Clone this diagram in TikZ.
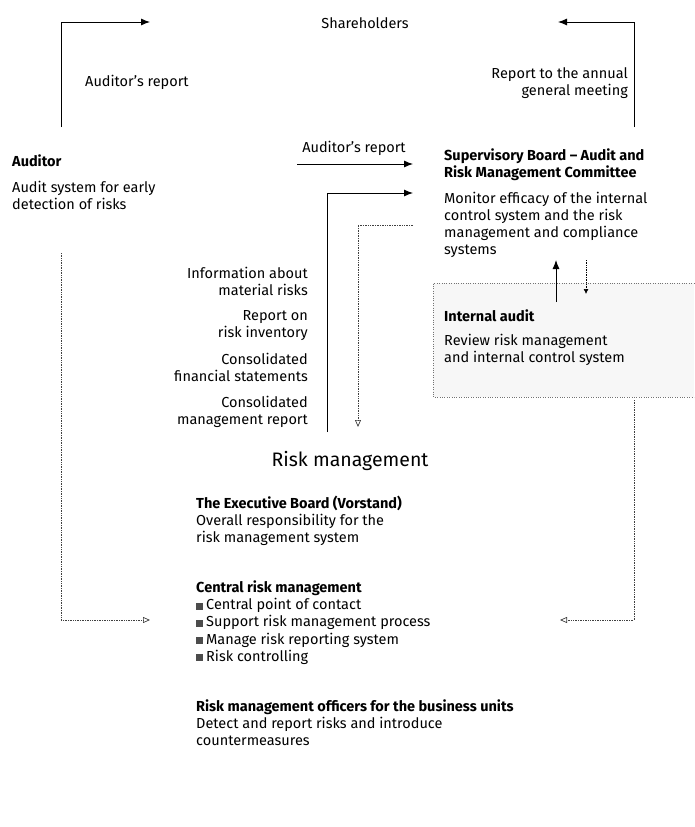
\documentclass[tikz,border=0pt]{standalone}
\usepackage{fontspec}
\setmainfont{Fira Sans}
\usetikzlibrary{arrows.meta}
\newcommand\rmbul{\textcolor{black!70}{\rule{7pt}{7pt}}\hspace{3pt}}
\begin{document}
\begin{tikzpicture}[x=1pt,y=-1pt,
  txt/.style={inner sep=0pt, font=\fontsize{14.5}{17.2}\selectfont},
  btxt/.style={inner sep=0pt, font=\fontsize{14.5}{17.2}\selectfont\bfseries},
  solidarrow/.style={line width=0.9pt, -{Latex[length=9pt,width=7pt]}},
  dotarrow/.style={line width=0.7pt, black!75, densely dotted, -{Triangle[open,length=7pt,width=6pt]}}]
\useasboundingbox (0,0) rectangle (694,827);
\fill[white] (0,0) rectangle (694,827);
% internal audit box
\draw[black!55, dotted, fill=black!3] (694,283) -- (433,283) -- (433,397) -- (694,397);
% texts
\node[txt] (sh) at (365,23) {Shareholders};
\node[txt, anchor=west] (lar) at (85,82) {Auditor's report};
\node[txt, anchor=north east, align=right] (agm) at (628,67.5) {Report to the annual\\general meeting};
\node[btxt, anchor=west] (aud) at (12,161) {Auditor};
\node[txt, anchor=north west, align=left] (auddesc) at (12,180.5) {Audit system for early\\detection of risks};
\node[txt] (mar) at (354,148) {Auditor's report};
\node[btxt, anchor=north west, align=left] (sb) at (444,148.5) {Supervisory Board -- Audit and\\Risk Management Committee};
\node[txt, anchor=north west, align=left] (sbdesc) at (444,191.5) {Monitor efficacy of the internal\\control system and the risk\\management and compliance\\systems};
\node[btxt, anchor=west] (ia) at (444,316) {Internal audit};
\node[txt, anchor=north west, align=left] (iadesc) at (444,333.5) {Review risk management\\and internal control system};
\node[txt, anchor=north east, align=right] (l1) at (308,266.5) {Information about\\material risks};
\node[txt, anchor=north east, align=right] (l2) at (308,310.5) {Report on\\risk inventory};
\node[txt, anchor=north east, align=right] (l3) at (308,352.5) {Consolidated\\financial statements};
\node[txt, anchor=north east, align=right] (l4) at (308,395.5) {Consolidated\\management report};
\node[inner sep=0pt, font=\fontsize{19.5}{22}\selectfont] (rm) at (350,461) {Risk management};
\node[txt, anchor=north west, align=left] (eb) at (196,495.5) {\textbf{The Executive Board (Vorstand)}\\Overall responsibility for the\\risk management system};
\node[txt, anchor=north west, align=left] (crm) at (196,580.5) {\textbf{Central risk management}\\\rmbul Central point of contact\\\rmbul Support risk management process\\\rmbul Manage risk reporting system\\\rmbul Risk controlling};
\node[txt, anchor=north west, align=left] (rmo) at (196,699.5) {\textbf{Risk management officers for the business units}\\Detect and report risks and introduce\\countermeasures};
% connector coordinates
\coordinate (a1) at (61,127); \coordinate (a2) at (150,22);
\coordinate (b1) at (634,127); \coordinate (b2) at (558,22);
\coordinate (c1) at (297,164); \coordinate (c2) at (413,164);
\coordinate (d1) at (327,432); \coordinate (d2) at (413,193);
\coordinate (e1) at (413,225); \coordinate (e2) at (358,427);
\coordinate (f1) at (61,253); \coordinate (f2) at (150,620);
\coordinate (g1) at (634,400); \coordinate (g2) at (560,620);
\coordinate (h1) at (556,302); \coordinate (h2) at (556,260);
\coordinate (i1) at (586,260); \coordinate (i2) at (586,294);
% connectors
\draw[solidarrow] (a1) |- (a2);
\draw[solidarrow] (b1) |- (b2);
\draw[solidarrow] (c1) -- (c2);
\draw[solidarrow] (d1) |- (d2);
\draw[dotarrow] (e1) -| (e2);
\draw[dotarrow] (f1) |- (f2);
\draw[dotarrow] (g1) |- (g2);
\draw[solidarrow] (h1) -- (h2);
\draw[line width=0.7pt, densely dotted, -{Latex[length=5pt,width=5pt]}] (i1) -- (i2);
\end{tikzpicture}
\end{document}
